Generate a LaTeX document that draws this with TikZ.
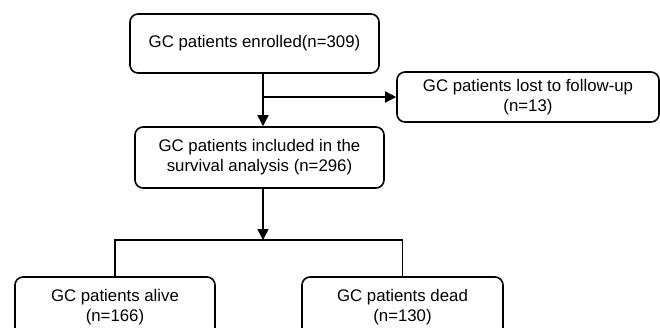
\documentclass[tikz,border=0pt]{standalone}
\usepackage{fontspec}
\setmainfont{Liberation Sans}
\usetikzlibrary{arrows.meta,positioning,calc}

\begin{document}
\begin{tikzpicture}[
    x=1pt, y=-1pt,
    flowbox/.style={draw, rounded corners=8pt, line width=1.6pt, align=center, inner sep=0pt, font=\fontsize{16.8}{20}\selectfont},
    arrow/.style={-{Triangle[length=11pt, width=11pt]}, line width=1.6pt},
    link/.style={line width=1.6pt}
]
\clip (0,0) rectangle (660,327);

\node[flowbox, minimum width=249pt, minimum height=59pt] (enrol) at (254.5, 43.5) {GC patients enrolled(n=309)};
\node[flowbox, minimum width=262pt, minimum height=50pt] (lost) at (528, 97) {GC patients lost to follow-up\\(n=13)};
\node[flowbox, minimum width=249pt, minimum height=61pt] (incl) at (259.5, 157.5) {GC patients included in the\\survival analysis (n=296)};
\node[flowbox, minimum width=200pt, minimum height=60pt] (alive) at (115, 307) {GC patients alive\\(n=166)};
\node[flowbox, minimum width=201pt, minimum height=60pt] (dead) at (402.5, 307) {GC patients dead\\(n=130)};

\coordinate (split) at (263, 97);
\coordinate (fork) at (263, 240);

\draw[arrow] (enrol.south -| split) -- (incl.north -| split);
\draw[arrow] (split) -- (lost.west);
\draw[arrow] (incl.south -| fork) -- (fork);
\draw[link] (alive.north) -- (alive.north |- fork) -- (dead.north |- fork) -- (dead.north);
\end{tikzpicture}
\end{document}
